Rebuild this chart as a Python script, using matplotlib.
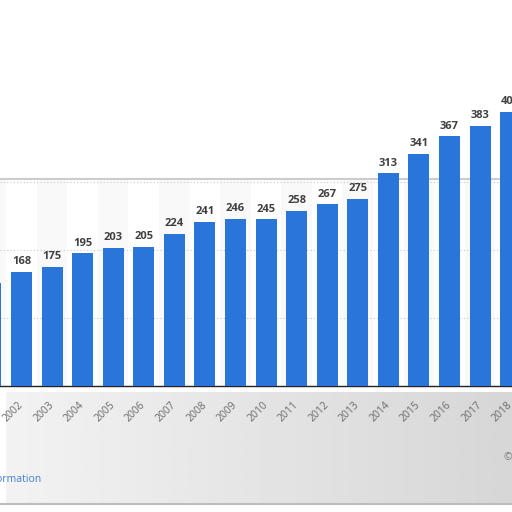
import numpy as np
import matplotlib.pyplot as plt

plt.rcParams['font.family'] = ['Open Sans', 'DejaVu Sans']

# datos del grafico
anios = list(range(2001, 2019))
valores = [151, 168, 175, 195, 203, 205, 224, 241, 246, 245, 258, 267, 275, 313, 341, 367, 383, 403]
etiquetas = [str(a) for a in anios]
lineas_guia = [100, 200, 300]

azul = '#2a75d9'

fig = plt.figure(figsize=(5.12, 5.12), dpi=100)
fig.patch.set_facecolor('white')

# franja gris difusa debajo del eje
fondo = fig.add_axes([0.012, 9 / 512, 0.988, 111 / 512])
grad = np.linspace(0.0, 1.0, 256)
tono = 0.95 - 0.11 * grad
img = np.tile(tono, (20, 1))
fondo.imshow(img, cmap='gray', vmin=0, vmax=1, aspect='auto', extent=[0, 1, 0, 1])
fondo.set_axis_off()
fig.add_artist(plt.Line2D([0, 1], [8 / 512, 8 / 512], color='#bdbdbd', lw=1.5))

ax = fig.add_axes([0, 126 / 512, 1, 386 / 512])
ax.patch.set_alpha(0)

# franjas alternas
tope = 305
for a in anios:
    if a % 2 == 1:
        ax.axvspan(a - 0.5, a + 0.5, ymin=0, ymax=tope / 567.6, color='#f9f9f9', zorder=0, lw=0)
ax.axhline(tope, color='#cccccc', lw=1.5, zorder=1)

barras = ax.bar(anios, valores, width=0.69, color=azul, zorder=3)
for x, v in zip(anios, valores):
    ax.annotate(str(v), (x, v), xytext=(0, 5.5), textcoords='offset points',
                ha='center', va='baseline', fontsize=8, fontweight='bold', color='#404040',
                annotation_clip=True)

ax.set_yticks(lineas_guia)
ax.set_yticklabels([])
ax.tick_params(axis='y', length=0)
ax.grid(axis='y', linestyle=(0, (1, 2)), color='#c8c8c8', lw=0.8, zorder=1)

ax.set_xticks(anios)
ax.set_xticklabels(etiquetas, rotation=45, ha='right', va='center', rotation_mode='anchor',
                   fontsize=7.5, color='#6a6a6a')
ax.tick_params(axis='x', length=0, pad=12.5)

# limites despues de los ticks para que no se expandan
ax.set_xlim(2001.297, 2018.045)
ax.set_ylim(0, 567.6)

for s in ['top', 'left', 'right']:
    ax.spines[s].set_visible(False)
ax.spines['bottom'].set_color('#222222')
ax.spines['bottom'].set_linewidth(1)

fig.text(41 / 512, 1 - 482 / 512, 'Additional Information', ha='right', va='baseline',
         fontsize=7.5, color='#3d80c6')
fig.text(504 / 512, 1 - 460 / 512, '© Statista 2019', ha='left', va='baseline',
         fontsize=7.5, color='#777777')

plt.savefig('out.png', dpi=100)
